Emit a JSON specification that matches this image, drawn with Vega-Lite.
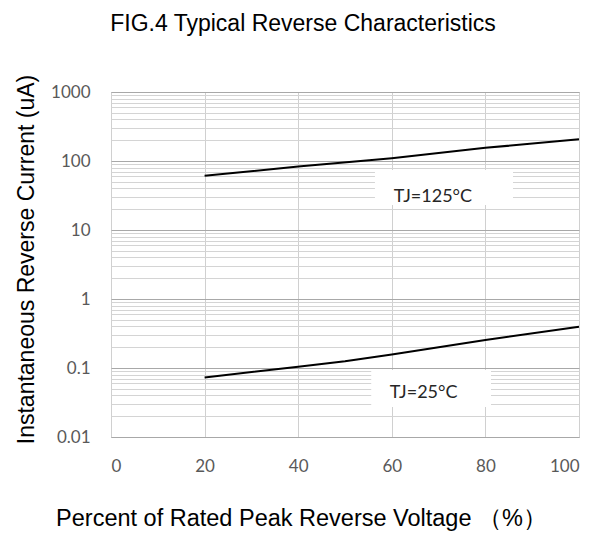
{
  "$schema": "https://vega.github.io/schema/vega-lite/v6.json",
  "width": 468,
  "height": 345,
  "autosize": {"type": "none"},
  "padding": {"left": 111, "top": 92, "right": 26, "bottom": 98},
  "background": "white",
  "config": {"view": {"stroke": "#b4b4b4", "strokeWidth": 1}},
  "title": {
    "text": "FIG.4 Typical Reverse Characteristics",
    "font": "Liberation Sans",
    "fontSize": 23,
    "fontWeight": "normal",
    "color": "#000000",
    "anchor": "middle",
    "baseline": "alphabetic",
    "offset": 20,
    "dx": -42
  },
  "datasets": {
    "curves": [
      {"v": 20, "i": 61, "t": "TJ=125°C"},
      {"v": 40, "i": 83, "t": "TJ=125°C"},
      {"v": 60, "i": 110, "t": "TJ=125°C"},
      {"v": 80, "i": 155, "t": "TJ=125°C"},
      {"v": 100, "i": 206, "t": "TJ=125°C"},
      {"v": 20, "i": 0.073, "t": "TJ=25°C"},
      {"v": 40, "i": 0.104, "t": "TJ=25°C"},
      {"v": 50, "i": 0.125, "t": "TJ=25°C"},
      {"v": 60, "i": 0.157, "t": "TJ=25°C"},
      {"v": 80, "i": 0.255, "t": "TJ=25°C"},
      {"v": 100, "i": 0.397, "t": "TJ=25°C"}
    ],
    "labels": [
      {"t": "TJ=125°C", "x": 68.8, "y": 30, "x0": 56.4, "x1": 85.9, "y0": 74, "y1": 23},
      {"t": "TJ=25°C", "x": 66.8, "y": 0.0434, "x0": 55.6, "x1": 81.2, "y0": 0.0935, "y1": 0.0272}
    ]
  },
  "layer": [
    {
      "data": {"name": "labels"},
      "mark": {"type": "rect", "fill": "white", "stroke": null},
      "encoding": {
        "x": {"field": "x0", "type": "quantitative", "scale": {"domain": [0, 100], "nice": false}},
        "x2": {"field": "x1"},
        "y": {"field": "y0", "type": "quantitative", "scale": {"type": "log", "domain": [0.01, 1000], "nice": false}},
        "y2": {"field": "y1"}
      }
    },
    {
      "data": {"name": "curves"},
      "mark": {"type": "line", "color": "#000000", "strokeWidth": 2},
      "encoding": {
        "x": {
          "field": "v",
          "type": "quantitative",
          "scale": {"domain": [0, 100], "nice": false},
          "axis": {
            "values": [0, 20, 40, 60, 80, 100],
            "domain": false,
            "ticks": false,
            "tickSize": 0,
            "grid": true,
            "gridColor": "#d0d0d0",
            "gridWidth": 1,
            "labelFont": "Lato",
            "labelFontSize": 17,
            "labelColor": "#595959",
            "labelPadding": 29,
            "labelBaseline": "middle",
            "title": "Percent of Rated Peak Reverse Voltage （%）",
            "titleFont": "Liberation Sans",
            "titleFontSize": 23.5,
            "titleFontWeight": "normal",
            "titleColor": "#000000",
            "titleX": 190,
            "titleY": 88,
            "titleBaseline": "alphabetic"
          }
        },
        "y": {
          "field": "i",
          "type": "quantitative",
          "scale": {"type": "log", "domain": [0.01, 1000], "nice": false},
          "axis": {
            "values": [0.01, 0.02, 0.03, 0.04, 0.05, 0.06, 0.07, 0.08, 0.09, 0.1, 0.2, 0.3, 0.4, 0.5, 0.6, 0.7, 0.8, 0.9, 1, 2, 3, 4, 5, 6, 7, 8, 9, 10, 20, 30, 40, 50, 60, 70, 80, 90, 100, 200, 300, 400, 500, 600, 700, 800, 900, 1000],
            "domain": false,
            "ticks": false,
            "tickSize": 0,
            "grid": true,
            "gridColor": {
              "condition": {"test": "abs(log(datum.value)/LN10 - round(log(datum.value)/LN10)) < 0.001", "value": "#a8a8a8"},
              "value": "#d4d4d4"
            },
            "gridWidth": 1,
            "labelExpr": "abs(log(datum.value)/LN10 - round(log(datum.value)/LN10)) < 0.001 ? format(datum.value, '~g') : ''",
            "labelOverlap": false,
            "labelFont": "Lato",
            "labelFontSize": 17,
            "labelColor": "#595959",
            "labelPadding": 21,
            "title": "Instantaneous Reverse Current (uA)",
            "titleFont": "Liberation Sans",
            "titleFontSize": 23,
            "titleFontWeight": "normal",
            "titleColor": "#000000",
            "titleX": -85,
            "titleY": 167,
            "titleBaseline": "middle",
            "titleAngle": -90
          }
        },
        "detail": {"field": "t", "type": "nominal"}
      }
    },
    {
      "data": {"name": "labels"},
      "mark": {"type": "text", "font": "Lato", "fontSize": 18, "color": "#262626", "align": "center", "baseline": "middle"},
      "encoding": {
        "x": {"field": "x", "type": "quantitative"},
        "y": {"field": "y", "type": "quantitative"},
        "text": {"field": "t"}
      }
    }
  ]
}
